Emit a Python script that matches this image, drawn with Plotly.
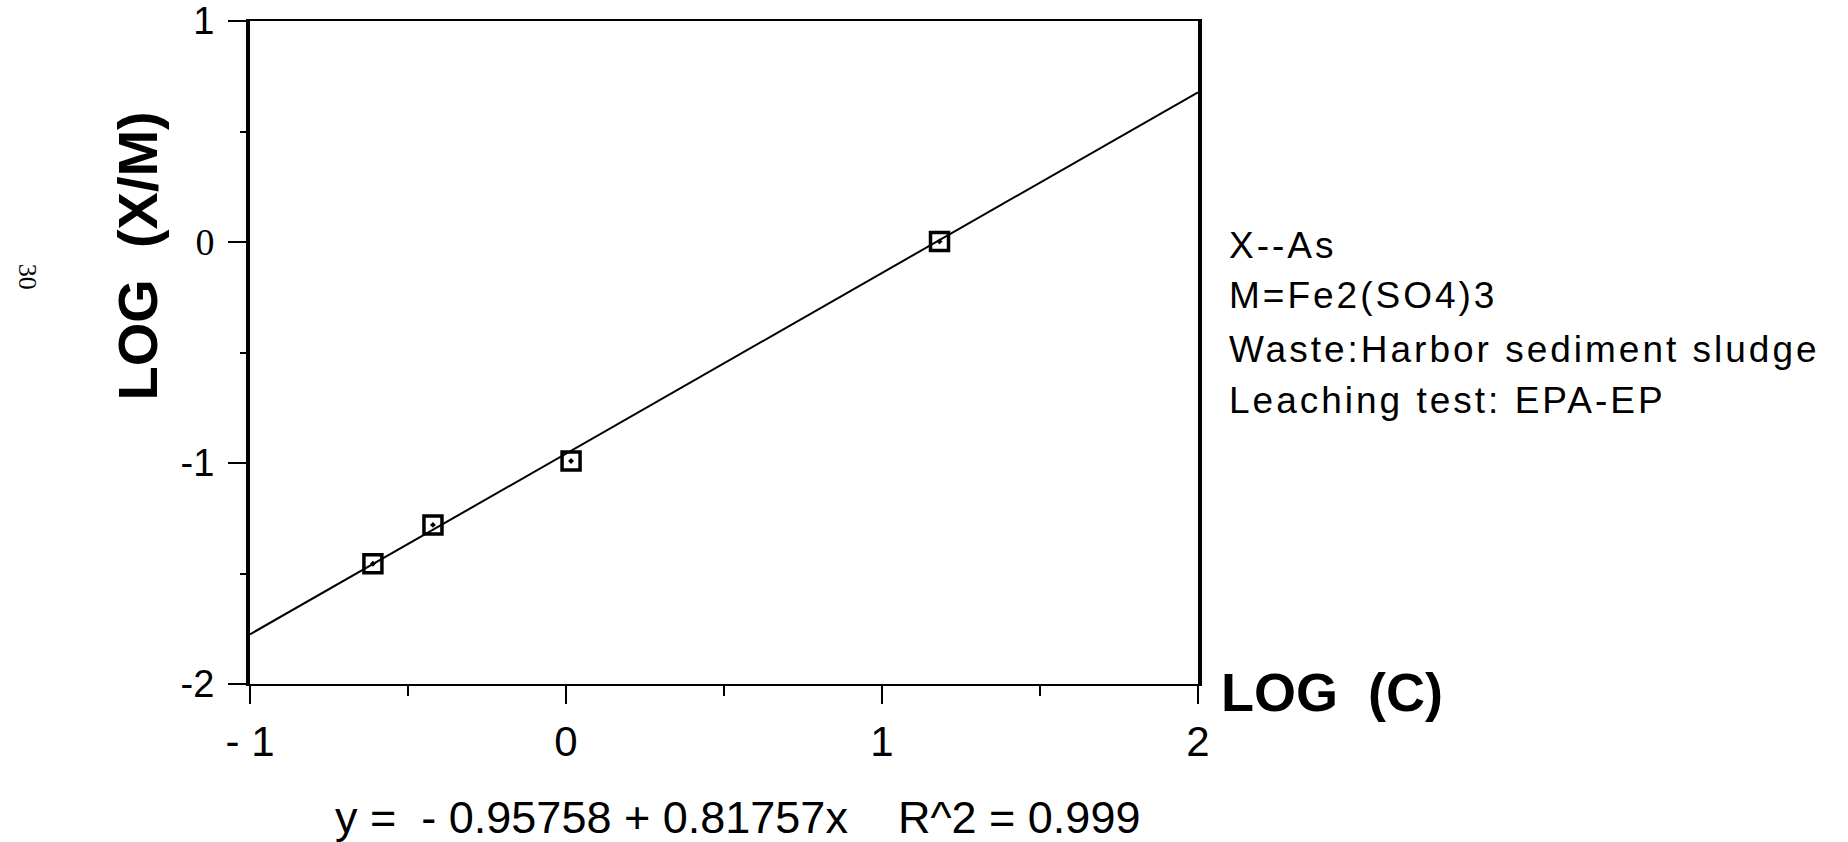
import plotly.graph_objects as go

# Data
log_c = [-0.611, -0.421, 0.016, 1.182]
log_xm = [-1.456, -1.280, -0.991, 0.002]

# Regression line y = a + b x
intercept = -0.95758
slope = 0.81757
r2 = 0.999
fit_x = [-1.0, 2.0]
fit_y = [intercept + slope * v for v in fit_x]

x_tickvals = [-1, 0, 1, 2]
x_ticktext = ["- 1", "0", "1", "2"]
y_tickvals = [-2, -1, 0, 1]
y_ticktext = ["-2", "-1", "<span style='font-family:Liberation Serif'>0</span>", "1"]

note_lines = ["X--As", "M=Fe2(SO4)3", "Waste:Harbor sediment sludge", "Leaching test: EPA-EP"]

SANS = "Liberation Sans, Arial, Helvetica, sans-serif"
NARROW = "Liberation Sans Narrow, Arial Narrow, Liberation Sans, sans-serif"

fig = go.Figure()
fig.add_trace(go.Scatter(x=fit_x, y=fit_y, mode="lines",
                         line=dict(color="black", width=2), showlegend=False))
fig.add_trace(go.Scatter(x=log_c, y=log_xm, mode="markers",
                         marker=dict(symbol="square-open-dot", size=18,
                                     color="black", line=dict(color="black", width=3.5)),
                         showlegend=False))

fig.update_layout(
    width=1848, height=842,
    margin=dict(l=250, r=650, t=21, b=158, pad=0),
    paper_bgcolor="white", plot_bgcolor="white",
    showlegend=False,
    xaxis=dict(range=[-1, 2], tickvals=x_tickvals, ticktext=x_ticktext,
               automargin=False,
               showgrid=False, zeroline=False, showline=True, linecolor="black",
               linewidth=2, mirror=True, ticks="outside", ticklen=18, tickwidth=2,
               tickcolor="black",
               minor=dict(dtick=0.5, tick0=0, ticks="outside", ticklen=10,
                          tickwidth=2, tickcolor="black"),
               tickfont=dict(family=NARROW, size=42, color="black"),
               ticklabelstandoff=2),
    yaxis=dict(range=[-2, 1], tickvals=y_tickvals, ticktext=y_ticktext,
               automargin=False,
               showgrid=False, zeroline=False, showline=True, linecolor="black",
               linewidth=4, mirror=True, ticks="outside", ticklen=18, tickwidth=2,
               tickcolor="black",
               minor=dict(dtick=0.5, tick0=0, ticks="outside", ticklen=6,
                          tickwidth=2, tickcolor="black"),
               tickfont=dict(family=SANS, size=38, color="black"),
               ticklabelstandoff=6),
)

# extensions of the vertical frame lines below the x axis
for xv in [-1, 2]:
    fig.add_shape(type="line", xref="x", yref="y", x0=xv, x1=xv,
                  ysizemode="pixel", yanchor=-2, y0=-20, y1=0,
                  line=dict(color="black", width=4))

fig.add_annotation(xref="paper", yref="paper", x=-0.119, y=0.645,
                   text="<b>LOG  (X/M)</b>", textangle=-90, showarrow=False,
                   font=dict(family=SANS, size=56, color="black"),
                   xanchor="center", yanchor="middle")
fig.add_annotation(xref="paper", yref="paper", x=1.022, y=-0.012,
                   text="<b>LOG  (C)</b>", showarrow=False,
                   font=dict(family=SANS, size=54, color="black"),
                   xanchor="left", yanchor="middle")
note_y = [0.662, 0.586, 0.505, 0.427]
for line, yy in zip(note_lines, note_y):
    fig.add_annotation(xref="paper", yref="paper", x=1.031, y=yy,
                       text=f"<span style='letter-spacing:3px'>{line}</span>",
                       showarrow=False, align="left",
                       font=dict(family=SANS, size=37, color="black"),
                       xanchor="left", yanchor="middle")
fig.add_annotation(xref="paper", yref="paper", x=0.514, y=-0.202,
                   text=f"y =  - {abs(intercept):.5f} + {slope:.5f}x    R^2 = {r2:.3f}",
                   showarrow=False,
                   font=dict(family=NARROW, size=45, color="black"),
                   xanchor="center", yanchor="middle")
fig.add_annotation(xref="paper", yref="paper", x=-0.235, y=0.614,
                   text="30", textangle=90, showarrow=False,
                   font=dict(family="Liberation Serif, serif", size=26, color="black"),
                   xanchor="center", yanchor="middle")

fig.write_html("out.html")
